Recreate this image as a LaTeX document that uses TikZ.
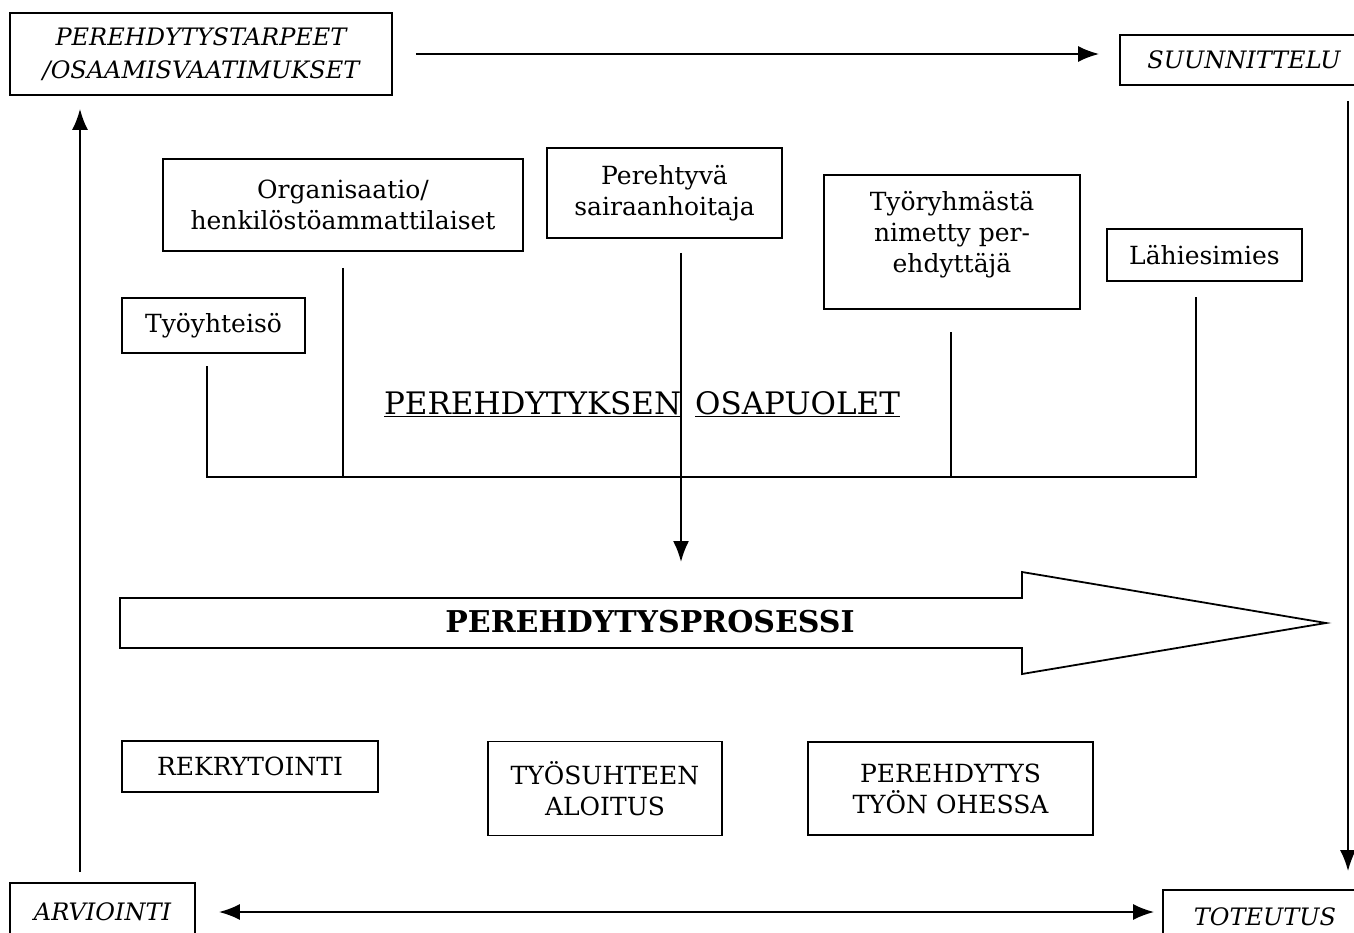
\documentclass[tikz,border=0pt]{standalone}
\usepackage{fontspec}
\setmainfont{DejaVu Serif}
\usetikzlibrary{arrows.meta}

\begin{document}
\begin{tikzpicture}[x=1pt,y=-1pt,line width=1.8pt,
        bx/.style={draw, inner sep=0pt, align=center,
                        font=\fontsize{25}{31}\selectfont},
        cyc/.style={bx, font=\fontsize{24}{33}\selectfont\itshape},
        arr/.style={line width=2pt, -{Latex[length=21pt,width=16pt]}},
        arr2/.style={line width=2pt, {Latex[length=21pt,width=16pt]}-{Latex[length=21pt,width=16pt]}}]
    \clip (0,0) rectangle (1354,933);

    % kierto
    \node[cyc, minimum width=382pt, minimum height=82pt] (tarve) at (201,54)
        {PEREHDYTYSTARPEET\\/OSAAMISVAATIMUKSET};
    \node[cyc, minimum width=248pt, minimum height=50pt] (suun) at (1244,60) {SUUNNITTELU};
    \node[cyc, minimum width=204pt, minimum height=54pt] (tot) at (1265,917) {TOTEUTUS};
    \node[cyc, minimum width=185pt, minimum height=58pt] (arv) at (102.5,912) {ARVIOINTI};
    \coordinate (oik) at (1348,0);
    \coordinate (vas) at (80,0);
    \draw[arr, shorten <=23pt, shorten >=20pt] (tarve.east) -- (tarve.east -| suun.west);
    \draw[arr, shorten <=15pt, shorten >=18pt] (suun.south -| oik) -- (tot.north -| oik);
    \draw[arr2, shorten <=23pt, shorten >=8pt] (arv.east) -- (arv.east -| tot.west);
    \draw[arr, shorten <=10pt, shorten >=13pt] (arv.north -| vas) -- (tarve.south -| vas);

    % osapuolet
    \node[bx, minimum width=183pt, minimum height=55pt] (yht) at (213.5,325.5) {Työyhteisö};
    \node[bx, minimum width=360pt, minimum height=92pt] (org) at (343,205)
        {Organisaatio/\\henkilöstöammattilaiset};
    \node[bx, minimum width=235pt, minimum height=90pt] (pht) at (664.5,193)
        {Perehtyvä\\sairaanhoitaja};
    \node[bx, minimum width=256pt, minimum height=134pt, text depth=21pt] (ryh) at (952,242)
        {Työryhmästä\\nimetty per-\\ehdyttäjä};
    \node[bx, minimum width=195pt, minimum height=52pt] (esi) at (1204.5,255) {Lähiesimies};
    \node[font=\fontsize{31}{33}\selectfont] (osa) at (642,404)
        {\underline{PEREHDYTYKSEN}\hspace{14pt}\underline{OSAPUOLET}};

    \coordinate (yht1) at (207,366);
    \coordinate (org1) at (343,268);
    \coordinate (ryh1) at (951,332);
    \coordinate (esi1) at (1196,297);
    \coordinate (pohja) at (0,477);
    \draw[line width=1.4pt] (yht1) -- (yht1 |- pohja) -- (esi1 |- pohja) -- (esi1)
        (org1) -- (org1 |- pohja)
        (ryh1) -- (ryh1 |- pohja);

    % prosessi
    \coordinate (ph2) at (681,562);
    \draw[arr, shorten <=14pt] (pht.south -| ph2) -- (ph2);
    \draw (120,598) -- (1022,598) -- (1022,572) -- (1326,623) -- (1022,674)
        -- (1022,648) -- (120,648) -- cycle;
    \node[font=\fontsize{30}{32}\selectfont\bfseries] (prs) at (650,622) {PEREHDYTYSPROSESSI};

    \node[bx, minimum width=256pt, minimum height=51pt] (rek) at (250,766.5) {REKRYTOINTI};
    \node[bx, minimum width=234pt, minimum height=94pt] (alo) at (605,788.5)
        {TYÖSUHTEEN\\ALOITUS};
    \node[bx, minimum width=285pt, minimum height=93pt] (ohe) at (950.5,788.5)
        {PEREHDYTYS\\TYÖN OHESSA};
\end{tikzpicture}
\end{document}
